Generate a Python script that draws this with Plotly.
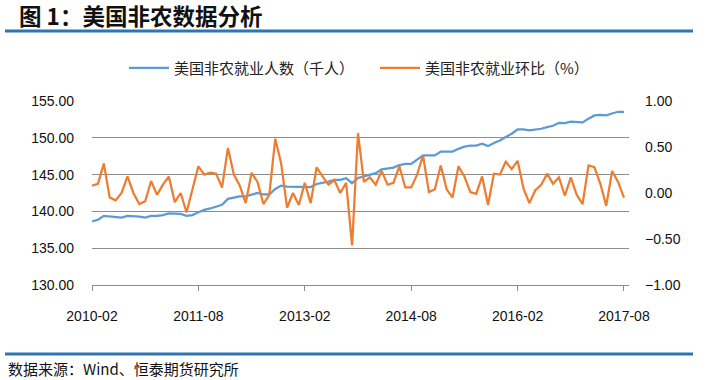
import plotly.graph_objects as go

# ---------------- data ----------------
tick_labels = ["2010-02", "2011-08", "2013-02", "2014-08", "2016-02", "2017-08"]
tick_positions = [0, 18, 36, 54, 72, 90]

payrolls = [
    138.65, 138.87, 139.40, 139.30, 139.15, 139.15, 139.40, 139.40, 139.30, 139.15,
    139.40, 139.40, 139.50, 139.74, 139.65, 139.65, 139.40, 139.50, 139.88, 140.20,
    140.40, 140.70, 140.90, 141.70, 141.90, 142.05, 142.05, 142.30, 142.50, 142.30,
    142.30, 143.05, 143.50, 143.36, 143.36, 143.30, 143.30, 143.30, 143.73, 143.87,
    144.05, 144.30, 144.30, 144.50, 143.83, 144.55, 144.78, 144.96, 145.20, 145.70,
    145.87, 145.95, 146.30, 146.45, 146.45, 147.00, 147.60, 147.60, 147.60, 148.13,
    148.13, 148.13, 148.50, 148.80, 148.95, 148.95, 149.20, 148.87, 149.30, 149.63,
    150.10, 150.55, 151.13, 151.13, 151.00, 151.10, 151.23, 151.46, 151.63, 152.04,
    152.00, 152.20, 152.20, 152.10, 152.60, 153.04, 153.13, 153.04, 153.30, 153.54,
    153.54,
]

mom_pct = [
    0.08, 0.10, 0.32, -0.05, -0.08, 0.00, 0.18, 0.00, -0.12, -0.09,
    0.13, -0.02, 0.09, 0.18, -0.10, 0.00, -0.21, 0.05, 0.29, 0.20,
    0.22, 0.21, 0.06, 0.49, 0.20, 0.08, -0.11, 0.22, 0.12, -0.12,
    -0.02, 0.59, 0.32, -0.16, 0.00, -0.13, 0.11, -0.11, 0.28, 0.18,
    0.09, 0.14, 0.00, 0.11, -0.57, 0.65, 0.12, 0.17, 0.09, 0.24,
    0.09, 0.11, 0.29, 0.06, 0.06, 0.20, 0.41, 0.01, 0.04, 0.30,
    0.04, -0.05, 0.29, 0.18, 0.01, -0.01, 0.18, -0.13, 0.21, 0.20,
    0.34, 0.26, 0.35, 0.05, -0.11, 0.03, 0.09, 0.21, 0.10, 0.17,
    -0.03, 0.17, -0.02, -0.12, 0.30, 0.28, 0.10, -0.14, 0.24, 0.12,
    -0.05,
]

name_payrolls = "美国非农就业人数（千人）"
name_mom = "美国非农就业环比（%）"
title_text = "图 1：美国非农数据分析"
source_text = "数据来源：Wind、恒泰期货研究所"

# ---------------- layout geometry ----------------
W, H = 720, 380
L, R, T, B = 92, 91, 101, 95
PW, PH = W - L - R, H - T - B


def xp(px):
    return (px - L) / PW


def yp(py):
    return (H - B - py) / PH


months = list(range(len(payrolls)))

CJK = "Noto Sans CJK SC, sans-serif"
LAT = "Liberation Sans, Arial, sans-serif"
BLUE_RULE = "#2E75B6"

fig = go.Figure()
fig.add_trace(go.Scatter(
    x=months, y=payrolls, name=name_payrolls, mode="lines",
    line=dict(color="#5B9BD5", width=2.25), yaxis="y",
))
fig.add_trace(go.Scatter(
    x=months, y=mom_pct, name=name_mom, mode="lines",
    line=dict(color="#ED7D31", width=2.25), yaxis="y2",
))

fig.update_layout(
    width=W, height=H,
    margin=dict(l=L, r=R, t=T, b=B, pad=0),
    paper_bgcolor="white", plot_bgcolor="white",
    showlegend=True,
    legend=dict(
        orientation="h", x=xp(124), xanchor="left", y=yp(68), yanchor="middle",
        font=dict(family=CJK, size=15, color="#222"),
        itemwidth=40, entrywidth=196, entrywidthmode="pixels",
        bgcolor="rgba(0,0,0,0)",
    ),
    xaxis=dict(
        range=[0, 90.85], tickvals=tick_positions, ticktext=tick_labels,
        showgrid=False, zeroline=False,
        showline=True, linecolor="#8c8c8c", linewidth=1,
        ticks="outside", ticklen=5, tickcolor="#8c8c8c", tickwidth=1,
        ticklabelstandoff=13,
        tickfont=dict(family=LAT, size=14, color="#111"),
    ),
    yaxis=dict(
        range=[130, 155], dtick=5, tick0=130, tickformat=".2f",
        showgrid=True, gridcolor="#8c8c8c", gridwidth=1,
        zeroline=False, showline=False, ticks="",
        ticklabelstandoff=17,
        tickfont=dict(family=LAT, size=14, color="#111"),
    ),
    yaxis2=dict(
        range=[-1, 1], dtick=0.5, tick0=-1, tickformat=".2f",
        overlaying="y", side="right",
        showgrid=False, zeroline=False, showline=False, ticks="",
        ticklabelstandoff=15,
        tickfont=dict(family=LAT, size=14, color="#111"),
    ),
    shapes=[
        dict(type="line", xref="paper", yref="paper",
             x0=xp(5), x1=xp(693), y0=yp(31), y1=yp(31),
             line=dict(color=BLUE_RULE, width=3)),
        dict(type="line", xref="paper", yref="paper",
             x0=xp(5), x1=xp(693), y0=yp(354), y1=yp(354),
             line=dict(color=BLUE_RULE, width=3)),
    ],
    annotations=[
        dict(text="<b>" + title_text + "</b>", xref="paper", yref="paper",
             x=xp(17), y=yp(15), xanchor="left", yanchor="middle",
             showarrow=False, font=dict(family=CJK, size=22.5, color="#111")),
        dict(text=source_text, xref="paper", yref="paper",
             x=xp(6), y=yp(368), xanchor="left", yanchor="middle",
             showarrow=False, font=dict(family=CJK, size=15, color="#111")),
    ],
)

# remove the browser's default 8px body margin so the figure sits at (0, 0)
fig.write_html(
    "out.html",
    config={"displayModeBar": False},
    post_script="document.body.style.margin='0';document.body.style.overflow='hidden';",
)
